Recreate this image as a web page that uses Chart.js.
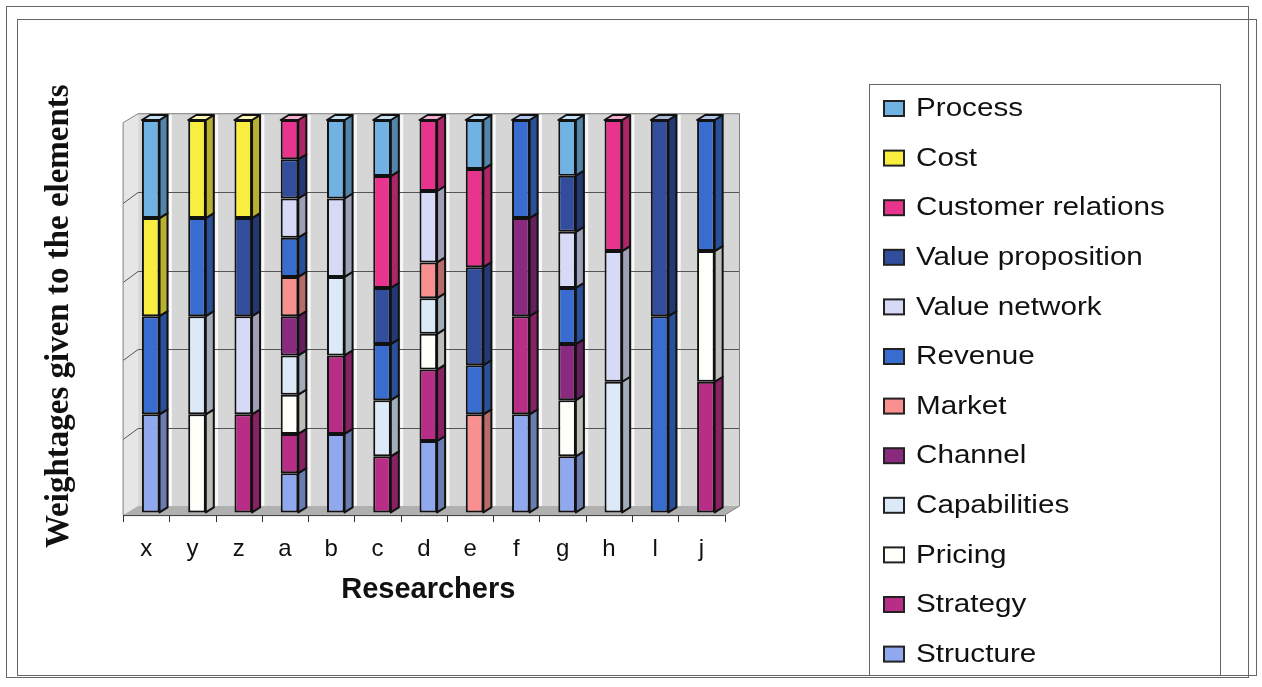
<!DOCTYPE html>
<html>
<head>
<meta charset="utf-8">
<title>Weightages given to the elements</title>
<script src="https://cdn.jsdelivr.net/npm/chart.js@4.4.1/dist/chart.umd.min.js"></script>
<style>
  html, body { margin: 0; padding: 0; background: #fff; }
  #wrap { position: relative; width: 1262px; height: 687px; }
</style>
</head>
<body>
<div id="wrap"><canvas id="chart"></canvas></div>
<script>
const researchers = ['x', 'y', 'z', 'a', 'b', 'c', 'd', 'e', 'f', 'g', 'h', 'l', 'j'];

// weight (%) of each element per researcher, bottom of the stack first
const structure         = [25,  0,  0, 10, 20,    0, 18.2,    0, 25, 14.3,    0,  0,    0];
const strategy          = [ 0,  0, 25, 10, 20, 14.3, 18.2,    0, 25,    0,    0,  0, 33.3];
const pricing           = [ 0, 25,  0, 10,  0,    0,  9.1,    0,  0, 14.3,    0,  0, 33.3];
const capabilities      = [ 0, 25,  0, 10, 20, 14.3,  9.1,    0,  0,    0, 33.3,  0,    0];
const channel           = [ 0,  0,  0, 10,  0,    0,    0,    0, 25, 14.3,    0,  0,    0];
const market            = [ 0,  0,  0, 10,  0,    0,  9.1,   25,  0,    0,    0,  0,    0];
const revenue           = [25, 25,  0, 10,  0, 14.3,    0, 12.5, 25, 14.3,    0, 50, 33.4];
const valueNetwork      = [ 0,  0, 25, 10, 20,    0, 18.2,    0,  0, 14.3, 33.3,  0,    0];
const valueProposition  = [ 0,  0, 25, 10,  0, 14.3,    0,   25,  0, 14.3,    0, 50,    0];
const customerRelations = [ 0,  0,  0, 10,  0, 28.5, 18.1,   25,  0,    0, 33.4,  0,    0];
const cost              = [25, 25, 25,  0,  0,    0,    0,    0,  0,    0,    0,  0,    0];
const process           = [25,  0,  0,  0, 20, 14.3,    0, 12.5,  0, 14.2,    0,  0,    0];

const elementColors = {
  'Structure': '#8fa8ee',
  'Strategy': '#b82e86',
  'Pricing': '#fffffa',
  'Capabilities': '#dceaf8',
  'Channel': '#8a2a7e',
  'Market': '#f89090',
  'Revenue': '#396ccf',
  'Value network': '#d6daf6',
  'Value proposition': '#314d9c',
  'Customer relations': '#e8348c',
  'Cost': '#f8ee40',
  'Process': '#70b2e4'
};

const stackOrder = [
  ['Structure', structure],
  ['Strategy', strategy],
  ['Pricing', pricing],
  ['Capabilities', capabilities],
  ['Channel', channel],
  ['Market', market],
  ['Revenue', revenue],
  ['Value network', valueNetwork],
  ['Value proposition', valueProposition],
  ['Customer relations', customerRelations],
  ['Cost', cost],
  ['Process', process]
];

// fake 3D geometry
const WALL_DX = 15, WALL_DY = -9;     // depth of the box
const FACE_DX = -4.5, FACE_DY = 2.7;  // front plane relative to bar faces
const BAR_DX = 8, BAR_DY = -5;        // depth of each column

function shade(hex, f) {
  const n = parseInt(hex.slice(1), 16);
  const c = [(n >> 16) & 255, (n >> 8) & 255, n & 255].map(v =>
    Math.round(f < 1 ? v * f : v + (255 - v) * (f - 1)));
  return `rgb(${c[0]},${c[1]},${c[2]})`;
}

const boxPlugin = {
  id: 'box3d',
  beforeDatasetsDraw(chart) {
    const { ctx, chartArea: ca, scales: { x, y } } = chart;
    const L = ca.left + FACE_DX, R = ca.right + FACE_DX;
    const T = y.getPixelForValue(100) + FACE_DY, B = y.getPixelForValue(0) + FACE_DY;
    const step = x.getPixelForValue(1) - x.getPixelForValue(0);

    ctx.save();
    // back wall
    ctx.fillStyle = '#d6d6d6';
    ctx.fillRect(L + WALL_DX, T + WALL_DY, R - L, B - T);
    // left wall
    ctx.fillStyle = '#e6e6e6';
    ctx.beginPath();
    ctx.moveTo(L, T); ctx.lineTo(L + WALL_DX, T + WALL_DY);
    ctx.lineTo(L + WALL_DX, B + WALL_DY); ctx.lineTo(L, B);
    ctx.closePath(); ctx.fill();
    // floor
    ctx.fillStyle = '#b0b0b0';
    ctx.beginPath();
    ctx.moveTo(L, B); ctx.lineTo(L + WALL_DX, B + WALL_DY);
    ctx.lineTo(R + WALL_DX, B + WALL_DY); ctx.lineTo(R, B);
    ctx.closePath(); ctx.fill();

    // light separators on the back wall
    ctx.strokeStyle = 'rgba(250,250,250,0.95)';
    ctx.lineWidth = 3;
    researchers.forEach((_, i) => {
      if (i === 0) return;
      const bx = x.getPixelForValue(i) - step / 2 + FACE_DX + 1;
      ctx.beginPath();
      ctx.moveTo(bx, T + WALL_DY + 1);
      ctx.lineTo(bx, B + WALL_DY);
      ctx.stroke();
    });

    // gridlines on back and left walls
    ctx.strokeStyle = '#555';
    ctx.lineWidth = 1;
    [20, 40, 60, 80].forEach(v => {
      const py = Math.round(y.getPixelForValue(v) + FACE_DY) + 0.5;
      ctx.beginPath();
      ctx.moveTo(L, py + 2);
      ctx.lineTo(L + WALL_DX, py + WALL_DY);
      ctx.lineTo(R + WALL_DX, py + WALL_DY);
      ctx.stroke();
    });

    // box outline
    ctx.strokeStyle = '#808080';
    ctx.beginPath();
    ctx.moveTo(L, B); ctx.lineTo(L, T);
    ctx.lineTo(L + WALL_DX, T + WALL_DY);
    ctx.lineTo(R + WALL_DX, T + WALL_DY);
    ctx.lineTo(R + WALL_DX, B + WALL_DY);
    ctx.lineTo(R, B);
    ctx.stroke();

    // category axis with ticks between researchers
    ctx.strokeStyle = '#333';
    ctx.beginPath();
    ctx.moveTo(L, B + 0.5); ctx.lineTo(R, B + 0.5);
    for (let i = 0; i <= researchers.length; i++) {
      const tx = Math.round(x.getPixelForValue(i) - step / 2 + FACE_DX) + 0.5;
      ctx.moveTo(tx, B); ctx.lineTo(tx, B + 7);
    }
    ctx.stroke();
    ctx.restore();
  },
  afterDatasetsDraw(chart) {
    const { ctx } = chart;
    const tops = {};
    ctx.save();
    ctx.strokeStyle = '#111';
    ctx.lineWidth = 2;
    ctx.lineJoin = 'round';
    chart.data.datasets.forEach((ds, di) => {
      chart.getDatasetMeta(di).data.forEach((el, j) => {
        const { x, y, base, width } = el.getProps(['x', 'y', 'base', 'width'], true);
        if (Math.abs(base - y) < 0.5) return;
        const r = x + width / 2;
        ctx.fillStyle = shade(ds.backgroundColor, 0.74);
        ctx.beginPath();
        ctx.moveTo(r, y); ctx.lineTo(r + BAR_DX, y + BAR_DY);
        ctx.lineTo(r + BAR_DX, base + BAR_DY); ctx.lineTo(r, base);
        ctx.closePath(); ctx.fill(); ctx.stroke();
        if (!tops[j] || y < tops[j].y) tops[j] = { x, y, width, color: ds.backgroundColor };
      });
    });
    Object.values(tops).forEach(t => {
      const l = t.x - t.width / 2, r = t.x + t.width / 2;
      ctx.fillStyle = shade(t.color, 1.6);
      ctx.beginPath();
      ctx.moveTo(l, t.y); ctx.lineTo(l + BAR_DX, t.y + BAR_DY);
      ctx.lineTo(r + BAR_DX, t.y + BAR_DY); ctx.lineTo(r, t.y);
      ctx.closePath(); ctx.fill(); ctx.stroke();
    });
    ctx.restore();
  }
};

// legend box on the right, top entry = top of the stack
const legendPlugin = {
  id: 'sideLegend',
  afterDraw(chart) {
    const { ctx } = chart;
    ctx.save();
    ctx.strokeStyle = '#666';
    ctx.lineWidth = 1;
    ctx.strokeRect(6.5, 6.5, 1242, 671);
    ctx.strokeRect(17.5, 19.5, 1239, 656);
    ctx.strokeRect(869.5, 84.5, 351, 591);

    chart.data.datasets.slice().reverse().forEach((ds, k) => {
      const cy = 109 + k * 49.6;
      ctx.fillStyle = ds.backgroundColor;
      ctx.fillRect(884, cy - 8, 20, 15);
      ctx.strokeStyle = '#222';
      ctx.lineWidth = 2;
      ctx.strokeRect(884, cy - 8, 20, 15);
      ctx.save();
      ctx.translate(916, cy);
      ctx.scale(1.14, 1);
      ctx.fillStyle = '#111';
      ctx.font = '26px "Liberation Sans", Arial, sans-serif';
      ctx.textBaseline = 'middle';
      ctx.fillText(ds.label, 0, 0);
      ctx.restore();
    });
    ctx.restore();
  }
};

new Chart(document.getElementById('chart'), {
  type: 'bar',
  data: {
    labels: researchers,
    datasets: stackOrder.map(([name, values]) => ({
      label: name,
      data: values,
      backgroundColor: elementColors[name],
      borderColor: '#111',
      borderWidth: 2,
      borderSkipped: false,
      barPercentage: 0.38,
      categoryPercentage: 1,
      clip: false
    }))
  },
  options: {
    responsive: true,
    maintainAspectRatio: false,
    animation: false,
    layout: { padding: { left: 20, right: 533, top: 120, bottom: 0 } },
    plugins: {
      legend: { display: false },
      tooltip: { enabled: false }
    },
    scales: {
      x: {
        stacked: true,
        grid: { display: false, drawTicks: false },
        border: { display: false },
        ticks: {
          color: '#111',
          font: { family: 'Liberation Sans', size: 24 },
          padding: 23,
          labelOffset: FACE_DX,
          maxRotation: 0,
          autoSkip: false
        },
        title: {
          display: true,
          text: 'Researchers',
          color: '#111',
          font: { family: 'Liberation Sans', size: 29, weight: 'bold' },
          padding: { top: -15, bottom: 80 }
        }
      },
      y: {
        stacked: true,
        min: 0,
        max: 100,
        grid: { display: false, drawTicks: false },
        border: { display: false },
        ticks: { display: false },
        title: {
          display: true,
          text: 'Weightages given to the elements',
          color: '#111',
          font: { family: 'Liberation Serif', size: 33, weight: 'bold' },
          padding: { top: 20, bottom: 48 }
        }
      }
    }
  },
  plugins: [boxPlugin, legendPlugin]
});
</script>
</body>
</html>
